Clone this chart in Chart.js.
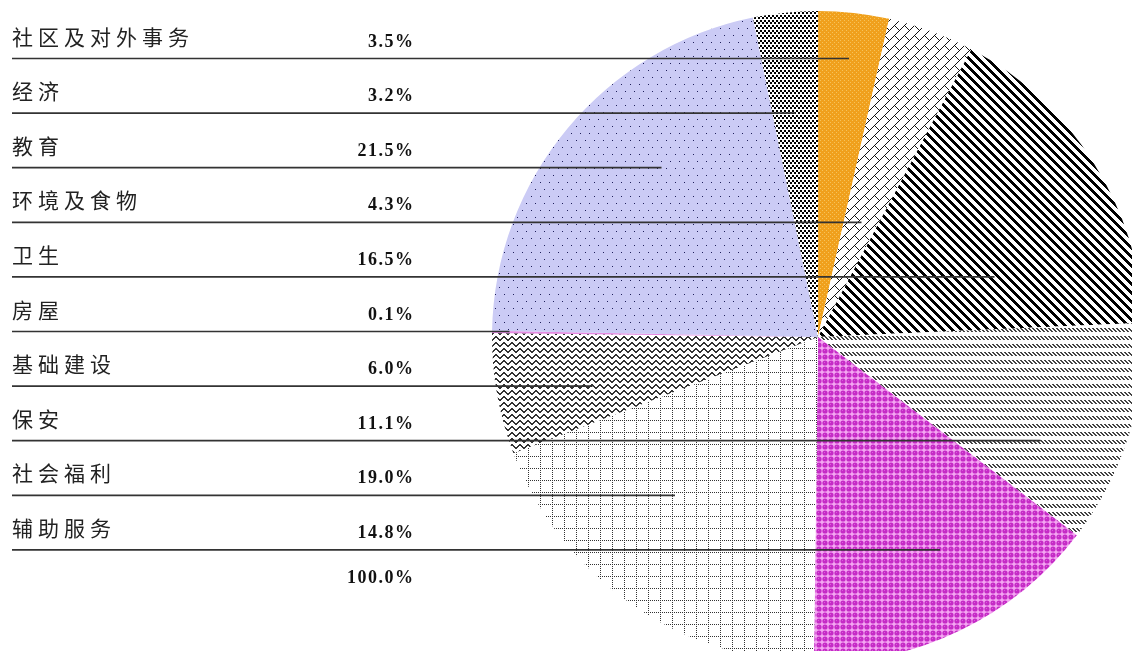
<!DOCTYPE html>
<html>
<head>
<meta charset="utf-8">
<script src="https://cdn.jsdelivr.net/npm/chart.js@4.4.1/dist/chart.umd.min.js"></script>
<style>
  html, body { margin: 0; padding: 0; background: #fff; overflow: hidden; }
  #wrap { position: relative; width: 1132px; height: 651px; overflow: hidden; }
  #budget { position: absolute; left: 0; top: 0; }
</style>
</head>
<body>
<div id="wrap"><canvas id="budget" width="1160" height="680"></canvas></div>
<script>
let categories = ['社区及对外事务', '经济', '教育', '环境及食物', '卫生', '房屋', '基础建设', '保安', '社会福利', '辅助服务'];
let shares = [3.5, 3.2, 21.5, 4.3, 16.5, 0.1, 6.0, 11.1, 19.0, 14.8];
let totalLabel = '100.0%';
// slices clockwise from 12 o'clock, as indexes into categories
let pieOrder = [0, 3, 4, 7, 9, 8, 6, 5, 2, 1];

// table layout
let firstLineY = 58.5;
let rowGap = 54.6;
let labelX = 12;
let percentRight = 413;

function bitPattern(rows, ink, paper) {
  let tile = document.createElement('canvas');
  tile.width = rows[0].length;
  tile.height = rows.length;
  let g = tile.getContext('2d');
  g.fillStyle = paper;
  g.fillRect(0, 0, tile.width, tile.height);
  g.fillStyle = ink;
  for (let y = 0; y < rows.length; y++) {
    for (let x = 0; x < rows[y].length; x++) {
      if (rows[y][x] === '1') g.fillRect(x, y, 1, 1);
    }
  }
  return g.createPattern(tile, 'repeat');
}

function stripeRows(size, width) {
  let rows = [];
  for (let y = 0; y < size; y++) {
    let r = '';
    for (let x = 0; x < size; x++) r += ((x - y + size * 2) % size) < width ? '1' : '0';
    rows.push(r);
  }
  return rows;
}

function gridRows(size) {
  let rows = [];
  for (let y = 0; y < size; y++) {
    let r = '';
    for (let x = 0; x < size; x++) {
      r += ((y === 0 && x % 2 === 0) || (x === 0 && y % 2 === 0)) ? '1' : '0';
    }
    rows.push(r);
  }
  return rows;
}

// bubbly magenta tile
function bubblePattern() {
  let tile = document.createElement('canvas');
  tile.width = 6;
  tile.height = 6;
  let g = tile.getContext('2d');
  g.fillStyle = '#f4a6f2';
  g.fillRect(0, 0, 6, 6);
  g.fillStyle = '#c52bc6';
  g.beginPath();
  g.arc(3, 3, 2.6, 0, Math.PI * 2);
  g.fill();
  g.fillStyle = '#d860d8';
  g.fillRect(2, 2, 1, 1);
  return g.createPattern(tile, 'repeat');
}

let fills = [
  // 社区及对外事务
  bitPattern(['1000', '0000', '0010', '0000'], '#f6c35a', '#f0a01c'),
  // 经济
  bitPattern(['11001100', '11001100', '00110011', '00110011', '00000000'], '#000000', '#ffffff'),
  // 教育
  bitPattern(['100000000', '000000000', '000000000', '000000000', '000000000', '000000000', '000000000',
              '000010000', '000000000', '000000000', '000000000', '000000000', '000000000', '000000000'], '#1e1e5a', '#cbcbf5'),
  // 环境及食物
  bitPattern(['0000000001', '0000000010', '0000000100', '0000001000', '0000010000',
              '0000100000', '0001010000', '0010001000', '0100000100', '1000000010'], '#111111', '#ffffff'),
  // 卫生
  bitPattern(stripeRows(9, 4), '#000000', '#ffffff'),
  // 房屋
  '#e58be3',
  // 基础建设
  bitPattern(['10000001', '11000011', '01100110', '00111100', '00011000', '00000000'], '#333333', '#ffffff'),
  // 保安
  bitPattern(['11001100', '01100110', '00110011', '10011001', '00000000', '00000000', '00000000', '00000000'], '#444444', '#ffffff'),
  // 社会福利
  bitPattern(gridRows(12), '#333333', '#ffffff'),
  // 辅助服务
  bubblePattern()
];

function drawSpaced(ctx, text, x, y, gap, alignRight) {
  let widths = [];
  let total = 0;
  for (let ch of text) {
    let w = ctx.measureText(ch).width;
    widths.push(w);
    total += w;
  }
  total += gap * (widths.length - 1);
  let cx = alignRight ? x - total : x;
  let i = 0;
  for (let ch of text) {
    ctx.fillText(ch, cx, y);
    cx += widths[i] + gap;
    i++;
  }
}

let tablePlugin = {
  id: 'sideTable',
  afterDraw(chart) {
    let ctx = chart.ctx;
    let arcs = chart.getDatasetMeta(0).data;
    ctx.save();
    ctx.textAlign = 'left';
    ctx.textBaseline = 'alphabetic';
    for (let i = 0; i < categories.length; i++) {
      let lineY = firstLineY + i * rowGap;
      let arc = arcs[pieOrder.indexOf(i)];
      // leader line ends half way across the slice at this height
      let first = -1;
      let last = -1;
      for (let x = 0; x < chart.width; x++) {
        if (arc.inRange(x, lineY)) {
          if (first < 0) first = x;
          last = x;
        }
      }
      let endX;
      if (first >= 0) {
        endX = (first + last) / 2;
      } else {
        let mid = (arc.startAngle + arc.endAngle) / 2;
        endX = arc.x + Math.cos(mid) * arc.outerRadius;
      }
      ctx.strokeStyle = '#333333';
      ctx.lineWidth = 1.7;
      ctx.beginPath();
      ctx.moveTo(labelX, lineY);
      ctx.lineTo(endX, lineY);
      ctx.stroke();

      ctx.fillStyle = '#222222';
      ctx.font = '21px "Noto Sans CJK SC"';
      drawSpaced(ctx, categories[i], labelX, lineY - 14, 5, false);

      ctx.fillStyle = '#111111';
      ctx.font = 'bold 18px "Liberation Serif"';
      drawSpaced(ctx, shares[i].toFixed(1) + '%', percentRight, lineY - 12, 1.5, true);
    }
    let lastLine = firstLineY + (categories.length - 1) * rowGap;
    drawSpaced(ctx, totalLabel, percentRight, lastLine + 33, 1.5, true);
    ctx.restore();
  }
};

let chartcontext = document.getElementById('budget').getContext('2d');

let chartConfig = {
  type: 'pie',
  data: {
    labels: pieOrder.map(i => categories[i]),
    datasets: [{
      data: pieOrder.map(i => shares[i]),
      backgroundColor: pieOrder.map(i => fills[i]),
      borderWidth: 0,
      hoverOffset: 0,
      offset: 0
    }]
  },
  options: {
    responsive: false,
    animation: false,
    devicePixelRatio: 1,
    radius: 326,
    rotation: 0,
    events: [],
    layout: { padding: { left: 476, right: 0, top: 0, bottom: 6 } },
    plugins: {
      legend: { display: false },
      tooltip: { enabled: false }
    }
  },
  plugins: [tablePlugin]
};

let mychart = new Chart(chartcontext, chartConfig);
</script>
</body>
</html>
